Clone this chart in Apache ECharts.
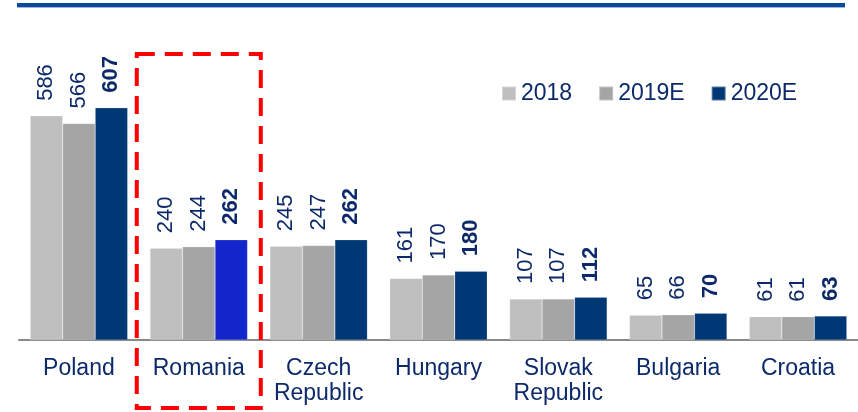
<!DOCTYPE html>
<html>
<head>
<meta charset="utf-8">
<script src="https://cdn.jsdelivr.net/npm/echarts@6/dist/echarts.min.js"></script>
<style>
html,body{margin:0;padding:0;background:#fff;}
#chart{width:858px;height:412px;}
</style>
</head>
<body>
<div id="chart"></div>
<script>
const categories = ['Poland', 'Romania', 'Czech\nRepublic', 'Hungary', 'Slovak\nRepublic', 'Bulgaria', 'Croatia'];
const seriesNames = ['2018', '2019E', '2020E'];
const values2018 = [586, 240, 245, 161, 107, 65, 61];
const values2019E = [566, 244, 247, 170, 107, 66, 61];
const values2020E = [607, 262, 262, 180, 112, 70, 63];
const highlightCategory = 'Romania';

const FONT = '"Liberation Sans", Arial, sans-serif';
const NAVY_TEXT = '#0c2a69';
const colors = ['#bfbfbf', '#a5a5a5', '#003876'];
const highlightColor = '#1226cc';

const chart = echarts.init(document.getElementById('chart'), null, {renderer: 'canvas'});

function makeSeries(name, vals, idx) {
  const bold = idx === 2;
  return {
    name: name,
    type: 'bar',
    barWidth: 32.5,
    barGap: '0%',
    itemStyle: {color: colors[idx], borderColor: 'rgba(255,255,255,0.35)', borderWidth: 0.5},
    data: vals.map((v, i) => {
      if (idx === 2 && categories[i] === highlightCategory) {
        return {value: v, itemStyle: {color: highlightColor}};
      }
      return v;
    }),
    label: {
      show: true,
      position: 'top',
      rotate: 90,
      align: 'left',
      verticalAlign: 'middle',
      distance: 15,
      fontFamily: FONT,
      fontSize: 22,
      fontWeight: bold ? 'bold' : 'normal',
      color: NAVY_TEXT
    }
  };
}

const option = {
  animation: false,
  backgroundColor: '#ffffff',
  grid: {left: 19, width: 840, top: 34, bottom: 72, containLabel: false},
  legend: {
    data: seriesNames,
    left: 496,
    top: 77,
    itemWidth: 14,
    itemHeight: 14,
    itemGap: 26,
    icon: 'rect',
    textStyle: {fontFamily: FONT, fontSize: 23, color: NAVY_TEXT, padding: [0, 0, 0, 0]}
  },
  xAxis: {
    type: 'category',
    data: categories,
    axisLine: {show: true, lineStyle: {color: '#888888', width: 2}},
    axisTick: {show: false},
    axisLabel: {fontFamily: FONT, fontSize: 23, lineHeight: 25, color: NAVY_TEXT, margin: 16, interval: 0}
  },
  yAxis: {
    type: 'value',
    min: 0,
    max: 800,
    show: false,
    splitLine: {show: false}
  },
  series: [
    makeSeries(seriesNames[0], values2018, 0),
    makeSeries(seriesNames[1], values2019E, 1),
    makeSeries(seriesNames[2], values2020E, 2)
  ]
};
chart.setOption(option);

// Annotations: header rule and dashed highlight box around the highlighted category
const cx = chart.convertToPixel({xAxisIndex: 0}, categories.indexOf(highlightCategory));
const yTop = chart.convertToPixel({yAxisIndex: 0}, 748);
const yAxisPx = chart.convertToPixel({yAxisIndex: 0}, 0);
chart.setOption({
  graphic: [
    {type: 'rect', shape: {x: 17, y: 3, width: 828, height: 4}, style: {fill: '#0b4a9c'}, silent: true},
    {type: 'rect', shape: {x: 17, y: 7, width: 828, height: 1}, style: {fill: '#9db7dc'}, silent: true},
    {
      type: 'rect',
      shape: {x: cx - 62, y: yTop, width: 124, height: (yAxisPx + 68) - yTop},
      style: {fill: 'none', stroke: '#ff0000', lineWidth: 4, lineDash: [18, 10]},
      silent: true,
      z: 10
    }
  ]
});
</script>
</body>
</html>
